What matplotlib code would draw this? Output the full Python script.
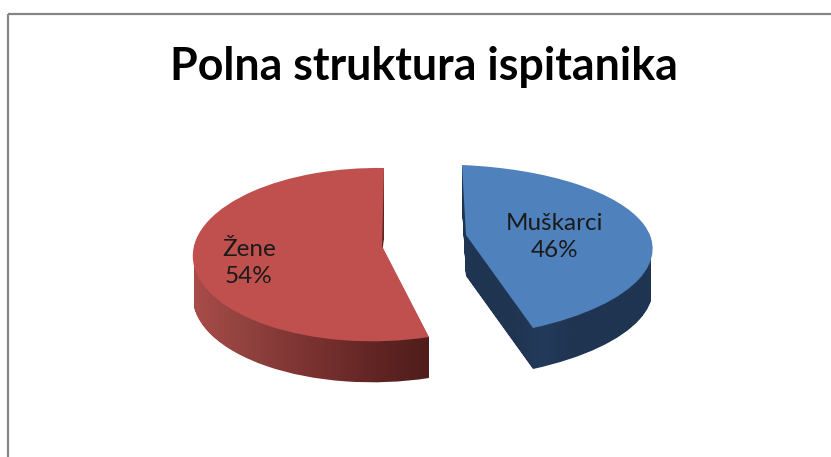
import numpy as np
import matplotlib
matplotlib.use("Agg")
import matplotlib.pyplot as plt
from matplotlib.path import Path
from matplotlib.patches import Rectangle
from matplotlib.transforms import Transform
from matplotlib.colors import LinearSegmentedColormap

# --- data ---
title = "Polna struktura ispitanika"
labels = ["Muškarci", "Žene"]
values = [46, 54]
top_colors = ["#4f81bd", "#c0504d"]
side_stops = [["#1f3552", "#1f3552", "#1f3552", "#243a5a", "#1f3552", "#1f3552", "#1f3552", "#1f3552"],
              ["#a84c49", "#8e403d", "#7a3230", "#622624", "#4f1d1b"]]
side_range = [(462, 651), (194, 430)]

W, H = 831, 457


class Homography(Transform):
    input_dims = output_dims = 2
    is_separable = False
    has_inverse = False

    def __init__(self, src, dst):
        super().__init__()
        A, b = [], []
        for (x, y), (u, v) in zip(src, dst):
            A.append([x, y, 1, 0, 0, 0, -u * x, -u * y]); b.append(u)
            A.append([0, 0, 0, x, y, 1, -v * x, -v * y]); b.append(v)
        self.m = np.append(np.linalg.solve(np.array(A, float), np.array(b, float)), 1).reshape(3, 3)

    def transform_non_affine(self, values):
        v = np.asarray(values, float)
        p = np.c_[v, np.ones(len(v))] @ self.m.T
        return p[:, :2] / p[:, 2:3]


def unit(angle):
    return (np.cos(np.radians(angle)), np.sin(np.radians(angle)))


fig = plt.figure(figsize=(W / 100, H / 100), dpi=100, facecolor="white")
ax = fig.add_axes([0, 0, 1, 1])

# pies, one per slice so that each can have its own view
blue_w, _ = ax.pie(values, colors=[top_colors[0], "none"], startangle=90, counterclock=False, frame=False)
red_w, _ = ax.pie(values, colors=["none", top_colors[1]], startangle=90, counterclock=False, frame=False)
ax.set_aspect("auto")
ax.set_xlim(0, W)
ax.set_ylim(H, 0)
ax.axis("off")

cut = 90 - 360 * values[0] / sum(values)
views = [
    Homography([(0, 0), (0, 1), (1, 0), unit(cut)],
               [(466, 235), (462, 165), (649, 233), (533, 328)]),
    Homography([(0, 0), (0, 1), (-1, 0), unit(cut)],
               [(382, 246), (384, 168), (194, 246), (429, 337)]),
]
depth = [41, 41]

for i, (wedge, view) in enumerate(zip([blue_w[0], red_w[1]], views)):
    base = view.transform_path(wedge.get_path())
    layers = [Path(base.vertices + [0, d], base.codes) for d in range(1, depth[i] + 1)]
    side = Path.make_compound_path(*layers)
    cmap = LinearSegmentedColormap.from_list(f"side{i}", side_stops[i])
    x0, x1 = side_range[i]
    im = ax.imshow(np.linspace(0, 1, 256)[None, :], cmap=cmap, aspect="auto",
                   extent=(x0, x1, H, 0), zorder=2)
    im.set_clip_path(side, transform=ax.transData)
    wedge.set_transform(view + ax.transData)
    wedge.set_zorder(3)
    wedge.set_linewidth(0)
ax.set_xlim(0, W)
ax.set_ylim(H, 0)

# chart frame (cut off by the image edge on the right and bottom)
ax.add_patch(Rectangle((8, 14), W + 20, H + 20, fill=False, ec="#868686", lw=1.6, zorder=1))

ax.text(424, 67, title, ha="center", va="center", fontsize=32.2, fontweight="bold",
        family="Lato", color="black", zorder=5)
ax.text(555, 237, f"{labels[0]}\n{values[0]}%", ha="center", va="center", fontsize=17.5,
        family="Lato", color="#1a1a1a", linespacing=1.4, zorder=5)
ax.text(249, 263, f"{labels[1]}\n{values[1]}%", ha="center", va="center", fontsize=17.5,
        family="Lato", color="#1a1a1a", linespacing=1.4, zorder=5)

fig.savefig("out.png", dpi=100)
